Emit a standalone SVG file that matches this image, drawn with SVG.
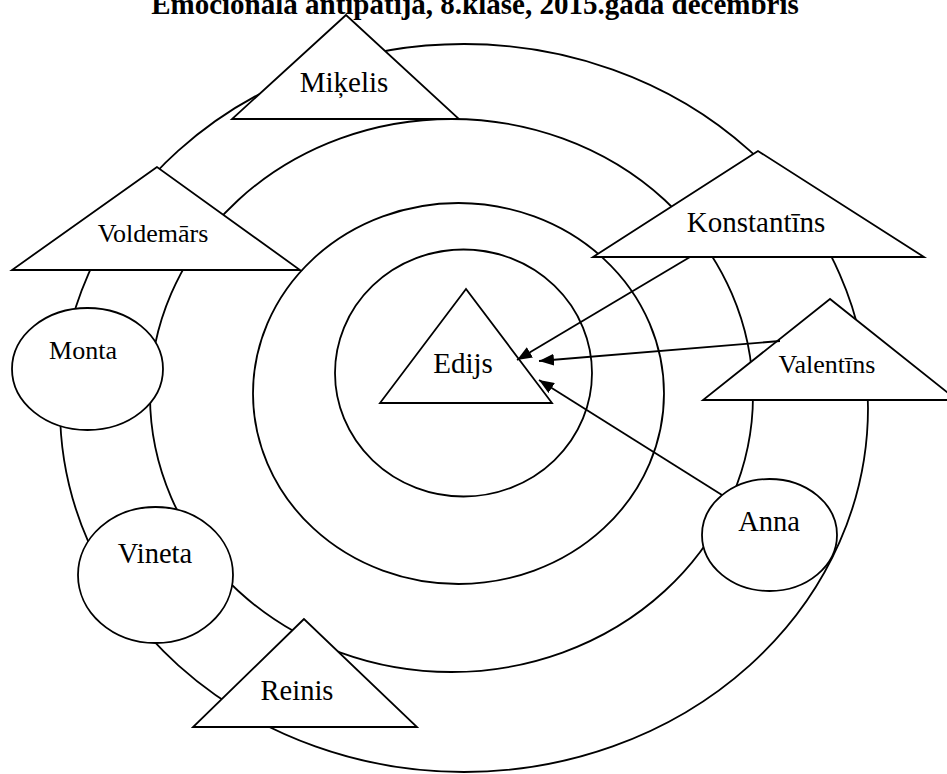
<svg xmlns="http://www.w3.org/2000/svg" width="947" height="774" viewBox="0 0 947 774">
  <style>
    .ring { fill: none; stroke: #000; stroke-width: 1.8; }
    .node { fill: #fff; stroke: #000; stroke-width: 1.8; stroke-linejoin: miter; }
    .label { font-family: "Liberation Serif", "Times New Roman", serif; fill: #000; text-anchor: middle; }
    .edge { stroke: #000; stroke-width: 1.8; fill: none; }
    .title { font-family: "Liberation Serif", "Times New Roman", serif; font-weight: bold; font-size: 29px; text-anchor: middle; fill: #000; }
  </style>
  <defs>
    <marker id="arrow" markerUnits="userSpaceOnUse" markerWidth="16" markerHeight="12" refX="15" refY="6" orient="auto">
      <path d="M0,0 L15,6 L0,12 z" fill="#000"/>
    </marker>
  </defs>

  <rect width="947" height="774" fill="#fff"/>

  <text class="title" x="475" y="14">Emocionālā antipātija, 8.klase, 2015.gada decembris</text>

  <!-- concentric rings -->
  <g id="rings">
    <ellipse class="ring" cx="464" cy="408" rx="404" ry="364"/>
    <ellipse class="ring" cx="451.5" cy="395.5" rx="301.5" ry="276.5"/>
    <ellipse class="ring" cx="458.5" cy="393.5" rx="205.5" ry="190.5"/>
    <ellipse class="ring" cx="463.5" cy="373" rx="128.5" ry="123.5"/>
  </g>

  <!-- pupils -->
  <g id="node-mikelis">
    <polygon class="node" points="346,15 232,119 459,119"/>
    <text class="label" x="344" y="92" font-size="29">Miķelis</text>
  </g>
  <g id="node-voldemars">
    <polygon class="node" points="157,167 12,270 300,270"/>
    <text class="label" x="153" y="242" font-size="26">Voldemārs</text>
  </g>
  <g id="node-konstantins">
    <polygon class="node" points="758,151 593,257 924,257"/>
    <text class="label" x="756" y="232" font-size="29">Konstantīns</text>
  </g>
  <g id="node-edijs">
    <polygon class="node" points="466,289 380,403 552,403"/>
    <text class="label" x="463" y="373" font-size="29">Edijs</text>
  </g>
  <g id="node-valentins">
    <polygon class="node" points="830,299 703,400 957,400"/>
    <text class="label" x="827" y="373" font-size="26">Valentīns</text>
  </g>
  <g id="node-monta">
    <ellipse class="node" cx="87.5" cy="369" rx="75.5" ry="61"/>
    <text class="label" x="83" y="359" font-size="26">Monta</text>
  </g>
  <g id="node-vineta">
    <ellipse class="node" cx="155.5" cy="575" rx="77.5" ry="68"/>
    <text class="label" x="155" y="563" font-size="28.5">Vineta</text>
  </g>
  <g id="node-anna">
    <ellipse class="node" cx="769.5" cy="535" rx="67.5" ry="56"/>
    <text class="label" x="769" y="531" font-size="28.5">Anna</text>
  </g>
  <g id="node-reinis">
    <polygon class="node" points="304,619 193,727 417,727"/>
    <text class="label" x="297" y="700" font-size="28.5">Reinis</text>
  </g>

  <!-- antipathy choices -->
  <g id="connectors">
    <line class="edge" x1="690" y1="257" x2="517" y2="360" marker-end="url(#arrow)"/>
    <line class="edge" x1="780" y1="341" x2="539" y2="361" marker-end="url(#arrow)"/>
    <line class="edge" x1="722" y1="495" x2="539" y2="380" marker-end="url(#arrow)"/>
  </g>
</svg>
